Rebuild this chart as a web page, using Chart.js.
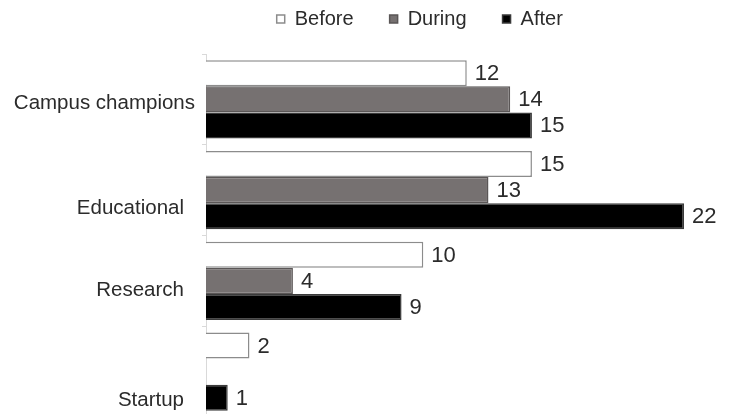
<!DOCTYPE html>
<html lang="en">

<head>
    <meta charset="UTF-8">
    <meta name="viewport" content="width=device-width, initial-scale=1.0">
    <title>Before / During / After</title>
    <script src="https://cdn.jsdelivr.net/npm/chart.js"></script>
    <style>
        html, body { margin: 0; padding: 0; background: #fff; overflow: hidden; }
        /* a little taller than the window: the last bar runs right to the edge */
        .chartBox { width: 734px; height: 417px; }
    </style>
</head>

<body>
    <div class="chartBox">
        <canvas id="myChart"></canvas>
    </div>
</body>

</html>
<script>
    // categories and values per phase
    const categorias = ['Campus champions', 'Educational', 'Research', 'Startup'];
    const antes = [12, 15, 10, 2];
    const durante = [14, 13, 4, null];
    const depois = [15, 22, 9, 1];
    const eixoX = [0, 24];

    // nudges for each category label (px): drop below the tick, shift left
    const descidaLabel = [4, 18, 9, 29];
    const recuoLabel = [0, 11, 11, 11];

    const corTexto = '#2b2b2b';
    const fonte = "'Liberation Sans', Arial, sans-serif";

    // writes the value just after the end of each bar
    const valoresPlugin = {
        id: 'valores',
        afterDatasetsDraw(chart) {
            const ctx = chart.ctx;
            ctx.save();
            ctx.font = '22px ' + fonte;
            ctx.fillStyle = corTexto;
            ctx.textAlign = 'left';
            ctx.textBaseline = 'middle';
            chart.data.datasets.forEach((ds, i) => {
                chart.getDatasetMeta(i).data.forEach((bar, j) => {
                    const v = ds.data[j];
                    if (v === null || v === undefined) return;
                    ctx.fillText(String(v), bar.x + 8, bar.y + 1);
                });
            });
            ctx.restore();
        }
    };

    // category names on the y scale, placed from the scale's own tick pixels
    const categoriasPlugin = {
        id: 'categorias',
        afterDraw(chart) {
            const ctx = chart.ctx;
            const y = chart.scales.y;
            ctx.save();
            ctx.font = '20.5px ' + fonte;
            ctx.fillStyle = corTexto;
            ctx.textAlign = 'right';
            ctx.textBaseline = 'middle';
            y.ticks.forEach((t, i) => {
                const py = y.getPixelForTick(i) + descidaLabel[i];
                ctx.fillText(categorias[i], y.right - 11 - recuoLabel[i], py);
            });
            ctx.restore();
        }
    };

    // legend sits high above the bars, a bit right of centre
    const legendaPlugin = {
        id: 'legendaAltura',
        beforeInit(chart) {
            const fitOriginal = chart.legend.fit;
            chart.legend.fit = function () {
                fitOriginal.bind(chart.legend)();
                this.height = 81;
            };
        },
        afterLayout(chart) {
            chart.legend.left += 56;
            chart.legend.right += 56;
        }
    };

    const ctxChart = document.getElementById('myChart');

    new Chart(ctxChart, {
        type: 'bar',
        data: {
            labels: categorias,
            datasets: [{
                label: 'Before',
                data: antes,
                backgroundColor: '#ffffff',
                borderColor: '#8c8c8c',
                borderWidth: 1.5
            }, {
                label: 'During',
                data: durante,
                backgroundColor: '#767171',
                borderColor: '#5a5656',
                borderWidth: 1.5
            }, {
                label: 'After',
                data: depois,
                backgroundColor: '#000000',
                borderColor: '#3a3a3a',
                borderWidth: 1.5
            }]
        },
        options: {
            indexAxis: 'y',
            responsive: true,
            maintainAspectRatio: false,
            animation: false,
            datasets: {
                bar: {
                    categoryPercentage: 0.86,
                    barPercentage: 1
                }
            },
            layout: {
                padding: { top: -27, right: 6.5, bottom: 0, left: 0 }
            },
            plugins: {
                tooltip: { enabled: false },
                legend: {
                    position: 'top',
                    labels: {
                        boxWidth: 8,
                        boxHeight: 8,
                        padding: 36,
                        color: corTexto,
                        font: { family: fonte, size: 20 }
                    }
                }
            },
            scales: {
                x: {
                    display: false,
                    min: eixoX[0],
                    max: eixoX[1]
                },
                y: {
                    afterFit(s) { s.width = 206; },
                    border: { display: true, color: '#d9d9d9', width: 1 },
                    grid: {
                        display: true,
                        drawOnChartArea: false,
                        drawTicks: true,
                        tickLength: 4,
                        color: '#d9d9d9'
                    },
                    ticks: {
                        display: false,
                        autoSkip: false
                    }
                }
            }
        },
        plugins: [valoresPlugin, categoriasPlugin, legendaPlugin]
    });
</script>
